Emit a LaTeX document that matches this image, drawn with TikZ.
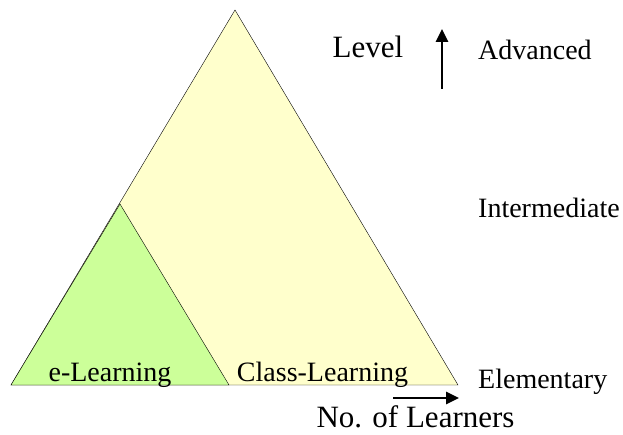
\documentclass[tikz,border=0pt]{standalone}
\usepackage{fontspec}
\setmainfont{Liberation Serif}
\usetikzlibrary{arrows.meta}
\definecolor{classyellow}{HTML}{FFFFCC}
\definecolor{elgreen}{HTML}{CCFF99}
\begin{document}
\begin{tikzpicture}[x=1pt,y=-1pt]
            \tikzset{lbl/.style={anchor=base,inner sep=0pt,font=\fontsize{28}{32}\selectfont}};
            \tikzset{biglbl/.style={lbl,font=\fontsize{31}{36}\selectfont}};
            \tikzset{axis/.style={line width=2.6pt,-{Triangle[length=13pt,width=12pt]}}};
            \useasboundingbox (0,0) rectangle (623,435);
            
            \coordinate (top) at (235,10);
            \coordinate (bl) at (11,385);
            \coordinate (br) at (458,385);
            \coordinate (etop) at (120,204);
            \coordinate (ebr) at (229,385);
            
            \draw[fill=classyellow] (bl)--(top)--(br)--cycle;
            \draw[fill=elgreen] (bl)--(etop)--(ebr)--cycle;
            
            \node[lbl] (el) at (110,381) {e-Learning};
            \node[lbl] (cl) at (322.5,381) {Class-Learning};
            
            \node[biglbl] (level) at (368,58) {Level};
            \node[lbl,anchor=base west] (adv) at (478,60) {Advanced};
            \node[lbl,anchor=base west] (inter) at (478,218) {Intermediate};
            \node[lbl,anchor=base west] (elem) at (478,388) {Elementary};
            \node[biglbl] (nol) at (415.5,427) {No. of Learners};
            
            \coordinate (up0) at (442,89);
            \coordinate (up1) at (442,29);
            \coordinate (rt0) at (393,398);
            \coordinate (rt1) at (459,398);
            \draw[axis] (up0)--(up1);
            \draw[axis] (rt0)--(rt1);
\end{tikzpicture}
\end{document}
